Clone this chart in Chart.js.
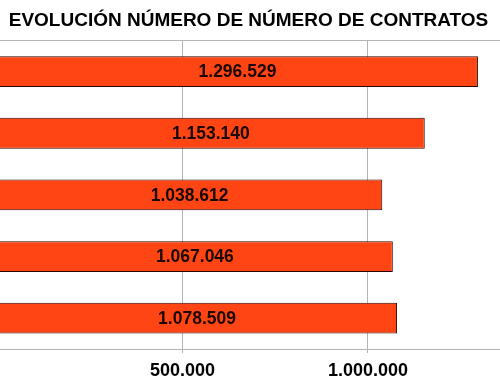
<!DOCTYPE html>
<html><head><meta charset="utf-8">
<script src="https://cdn.jsdelivr.net/npm/chart.js@4/dist/chart.umd.min.js"></script>
<style>
html,body{margin:0;padding:0;background:#fff;overflow:hidden;}
#wrap{position:absolute;left:-3px;top:0;width:503px;height:383px;}
</style></head>
<body>
<div id="wrap"><canvas id="c"></canvas></div>
<script>
const categories = ['1', '2', '3', '4', '5'];
const contratos = [1296529, 1153140, 1038612, 1067046, 1078509];
const tickValues = [500000, 1000000];
const axisMax = 1356000;
const titleText = 'EVOLUCIÓN NÚMERO DE NÚMERO DE CONTRATOS';

const fmt = v => String(v).replace(/\B(?=(\d{3})+(?!\d))/g, '.');

const barLabels = {
  id: 'barLabels',
  afterDatasetsDraw(chart) {
    const ctx = chart.ctx;
    const meta = chart.getDatasetMeta(0);
    ctx.save();
    ctx.font = 'bold 17.5px "Liberation Sans", Arial, sans-serif';
    ctx.fillStyle = '#1a0800';
    ctx.textAlign = 'center';
    ctx.textBaseline = 'middle';
    meta.data.forEach((bar, i) => {
      const p = bar.getProps(['x', 'y', 'base'], true);
      ctx.fillText(fmt(chart.data.datasets[0].data[i]), (p.x + p.base) / 2, p.y + 1);
    });
    ctx.restore();
  }
};

new Chart(document.getElementById('c'), {
  type: 'bar',
  data: {
    labels: categories,
    datasets: [{
      data: contratos,
      backgroundColor: '#ff4514',
      borderColor: '#2a0400',
      borderWidth: 1,
      borderSkipped: false,
      categoryPercentage: 1.0,
      barPercentage: 0.5
    }]
  },
  options: {
    indexAxis: 'y',
    responsive: true,
    maintainAspectRatio: false,
    animation: false,
    layout: { padding: 0 },
    plugins: {
      legend: { display: false },
      tooltip: { enabled: false },
      title: {
        display: true,
        text: titleText,
        color: '#000',
        font: { family: '"Liberation Sans", Arial, sans-serif', size: 19, weight: 'bold' },
        padding: { top: 9, bottom: 9 }
      }
    },
    scales: {
      x: {
        min: 0, max: axisMax,
        afterBuildTicks: axis => { axis.ticks = tickValues.map(v => ({ value: v })); },
        afterFit: axis => { axis.height = 34; },
        grid: { color: '#b4b4b4', tickLength: 4, lineWidth: 1 },
        border: { display: true, color: '#b4b4b4' },
        ticks: {
          color: '#000',
          padding: 7,
          font: { family: '"Liberation Sans", Arial, sans-serif', size: 18, weight: 'bold' },
          callback: v => fmt(v)
        }
      },
      x2: {
        position: 'top',
        min: 0, max: axisMax,
        afterFit: axis => { axis.height = 0; },
        grid: { display: false },
        border: { display: true, color: '#b4b4b4' },
        ticks: { display: false }
      },
      y: {
        afterFit: axis => { axis.width = 0; },
        grid: { display: false },
        border: { display: false },
        ticks: { display: false }
      }
    }
  },
  plugins: [barLabels]
});
</script>
</body></html>
